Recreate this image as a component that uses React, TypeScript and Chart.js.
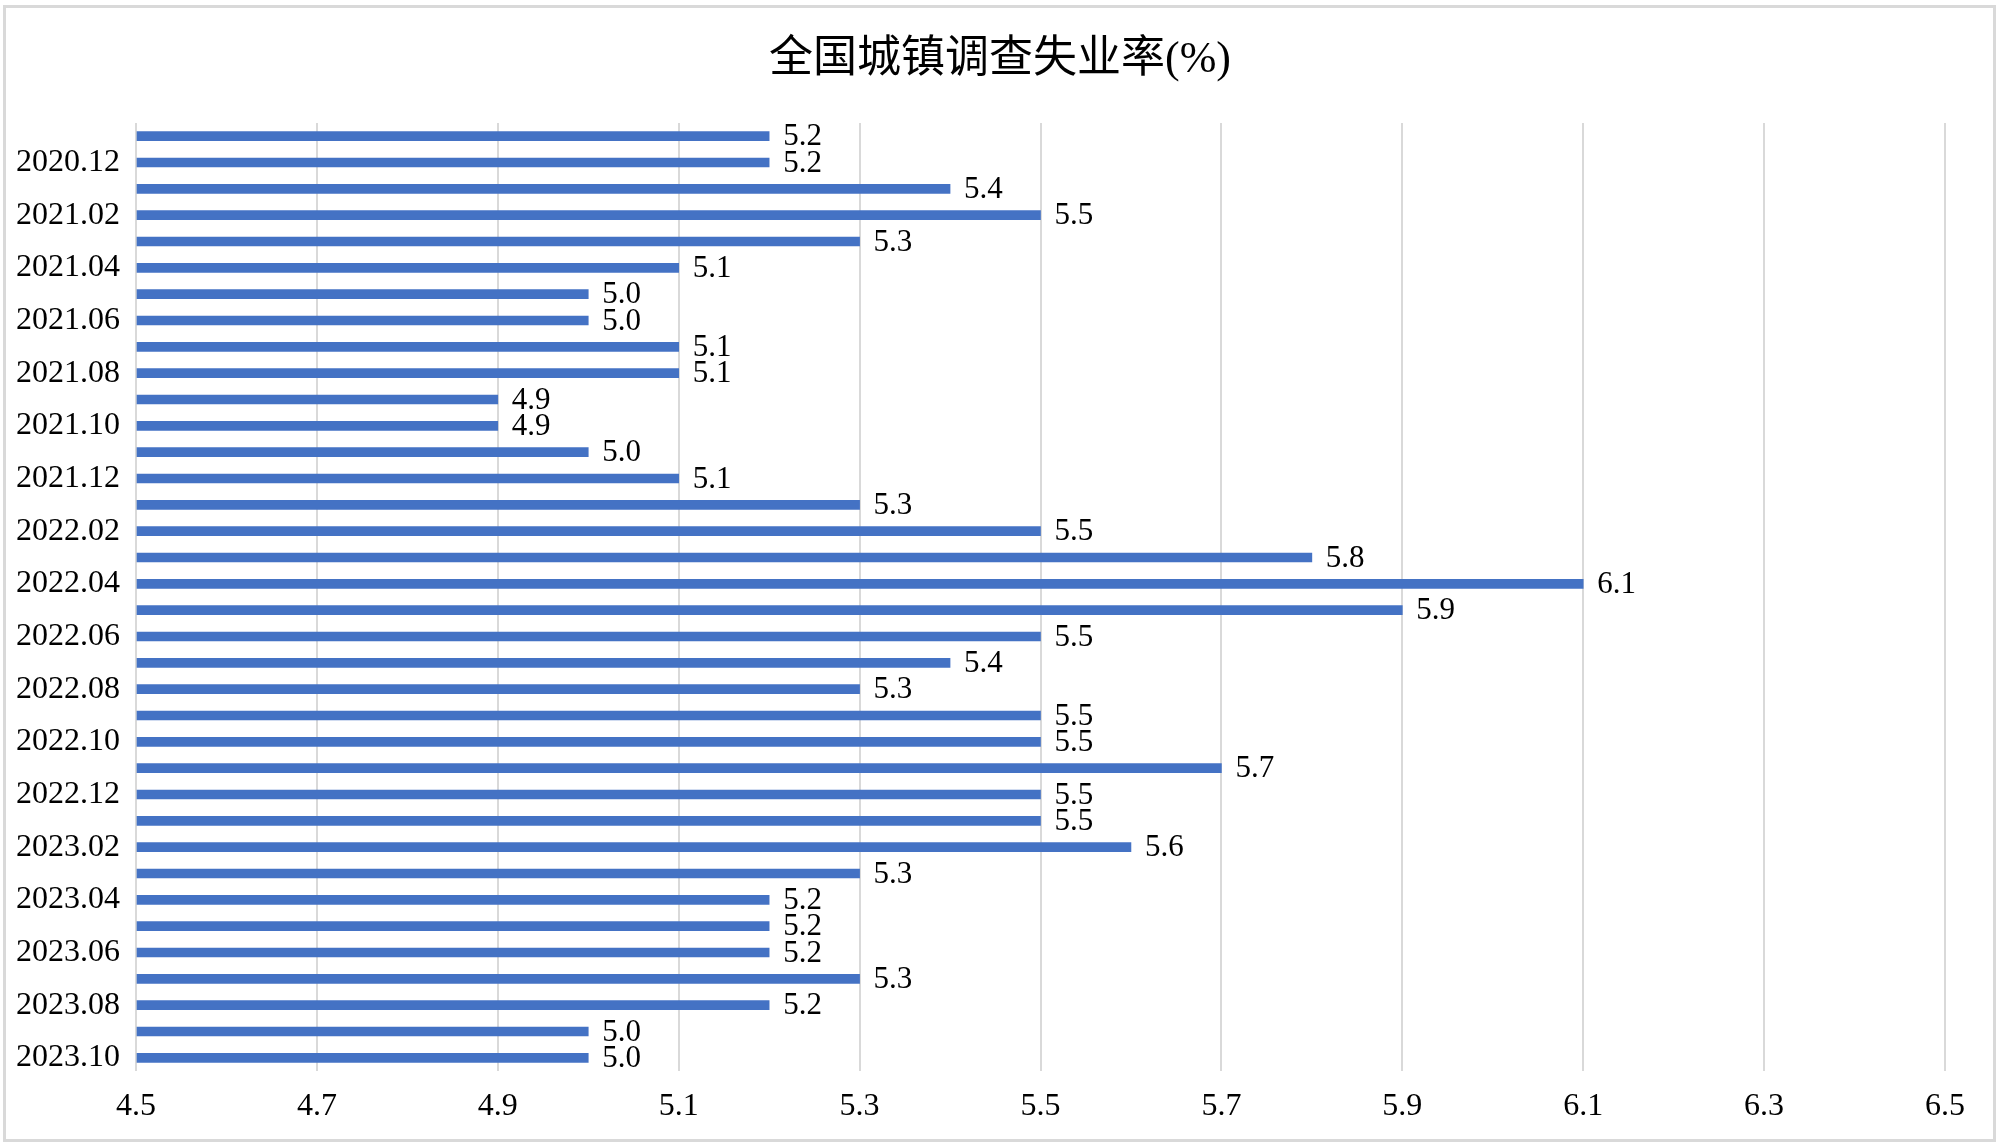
import React, { useEffect, useRef } from "react";
import { Chart, registerables } from "chart.js";

Chart.register(...registerables);

const TITLE = "全国城镇调查失业率(%)";

const months: string[] = [
  "2020.11", "2020.12",
  "2021.01", "2021.02", "2021.03", "2021.04", "2021.05", "2021.06",
  "2021.07", "2021.08", "2021.09", "2021.10", "2021.11", "2021.12",
  "2022.01", "2022.02", "2022.03", "2022.04", "2022.05", "2022.06",
  "2022.07", "2022.08", "2022.09", "2022.10", "2022.11", "2022.12",
  "2023.01", "2023.02", "2023.03", "2023.04", "2023.05", "2023.06",
  "2023.07", "2023.08", "2023.09", "2023.10",
];

const rates: number[] = [
  5.2, 5.2,
  5.4, 5.5, 5.3, 5.1, 5.0, 5.0,
  5.1, 5.1, 4.9, 4.9, 5.0, 5.1,
  5.3, 5.5, 5.8, 6.1, 5.9, 5.5,
  5.4, 5.3, 5.5, 5.5, 5.7, 5.5,
  5.5, 5.6, 5.3, 5.2, 5.2, 5.2,
  5.3, 5.2, 5.0, 5.0,
];

const xMin = 4.5;
const xMax = 6.5;
const xStep = 0.2;

const SERIF = "'Liberation Serif', 'Times New Roman', serif";
const BAR_COLOR = "#4472C4";
const GRID_COLOR = "#d9d9d9";

const W = 1999;
const H = 1146;

const decorPlugin = {
  id: "decor",
  beforeDraw(chart: any) {
    const ctx = chart.ctx;
    ctx.save();
    ctx.fillStyle = "#ffffff";
    ctx.fillRect(0, 0, chart.width, chart.height);
    ctx.strokeStyle = GRID_COLOR;
    ctx.lineWidth = 3;
    ctx.strokeRect(4.5, 6.5, chart.width - 9, chart.height - 12);
    ctx.fillStyle = "#000000";
    ctx.textAlign = "center";
    ctx.textBaseline = "middle";
    ctx.font = `44px 'Liberation Serif', 'Noto Sans CJK SC', serif`;
    ctx.fillText(TITLE, 1000, 60);
    ctx.restore();
  },
  afterDatasetsDraw(chart: any) {
    const ctx = chart.ctx;
    const meta = chart.getDatasetMeta(0);
    ctx.save();
    ctx.fillStyle = "#000000";
    ctx.textAlign = "left";
    ctx.textBaseline = "middle";
    ctx.font = `31px ${SERIF}`;
    meta.data.forEach((el: any, i: number) => {
      const v = chart.data.datasets[0].data[i] as number;
      ctx.fillText(v.toFixed(1), el.x + 14, el.y + 1);
    });
    ctx.restore();
  },
};

export default function App() {
  const ref = useRef<HTMLCanvasElement | null>(null);

  useEffect(() => {
    document.body.style.margin = "0";
    const canvas = ref.current;
    if (!canvas) return;
    const chart = new Chart(canvas, {
      type: "bar",
      data: {
        labels: months,
        datasets: [
          {
            data: rates,
            backgroundColor: BAR_COLOR,
            borderWidth: 0,
            barThickness: 9,
            base: xMin,
          } as any,
        ],
      },
      options: {
        indexAxis: "y",
        animation: false,
        responsive: false,
        devicePixelRatio: 1,
        layout: { padding: { left: 0, right: 54, top: 123, bottom: 0 } },
        plugins: {
          legend: { display: false },
          title: { display: false },
          tooltip: { enabled: false },
        },
        scales: {
          x: {
            type: "linear",
            position: "bottom",
            min: xMin,
            max: xMax,
            ticks: {
              stepSize: xStep,
              color: "#000000",
              font: { family: SERIF, size: 32 },
              padding: 16,
              callback: (v: any) => Number(v).toFixed(1),
            },
            grid: {
              color: GRID_COLOR,
              lineWidth: 2,
              drawTicks: false,
            },
            border: { display: false },
            afterFit: (scale: any) => {
              scale.height = 75;
            },
          },
          y: {
            type: "category",
            offset: true,
            ticks: {
              autoSkip: false,
              color: "#000000",
              font: { family: SERIF, size: 32 },
              padding: 16,
              callback: (_v: any, i: number) => (i % 2 === 1 ? months[i] : ""),
            },
            grid: { display: false, drawTicks: false },
            border: { display: false },
            afterFit: (scale: any) => {
              scale.width = 136;
            },
          },
        },
      },
      plugins: [decorPlugin],
    });
    return () => chart.destroy();
  }, []);

  return (
    <div style={{ width: W, height: H, position: "relative" }}>
      <canvas ref={ref} width={W} height={H} style={{ display: "block" }} />
    </div>
  );
}
